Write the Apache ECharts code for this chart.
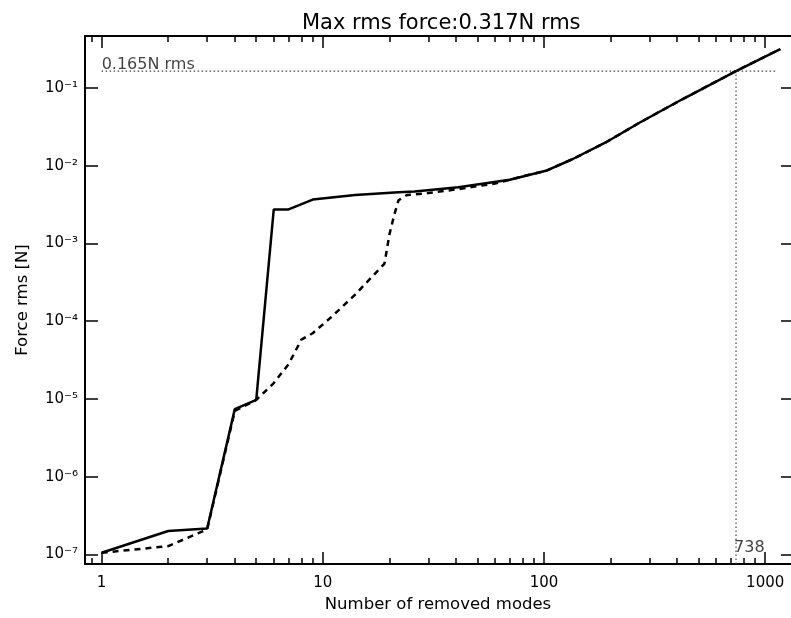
<!DOCTYPE html>
<html>
<head>
<meta charset="utf-8">
<script src="https://cdn.jsdelivr.net/npm/echarts@6/dist/echarts.min.js"></script>
<style>
html,body{margin:0;padding:0;background:#fff;}
#chart{width:791px;height:618px;}
</style>
</head>
<body>
<div id="chart"></div>
<script>
// ---- data ----
const titleText = 'Max rms force:0.317N rms';
const xName = 'Number of removed modes';
const yName = 'Force rms [N]';

const modesSolid = [1, 2, 3, 4, 5, 6, 7, 9, 14, 22, 26, 41, 70, 102, 135, 190, 270, 420, 738, 1170];
const forceSolid = [1.05e-7, 2.0e-7, 2.15e-7, 7.4e-6, 9.7e-6, 2.74e-3, 2.74e-3, 3.67e-3, 4.2e-3, 4.55e-3, 4.65e-3, 5.29e-3, 6.6e-3, 8.6e-3, 1.22e-2, 1.99e-2, 3.57e-2, 7.1e-2, 0.165, 0.317];

const modesDashed = [1, 2, 3, 4, 5, 6, 7, 8, 9, 11, 14, 19, 20, 21, 22, 24, 30, 40, 60, 80, 102, 135, 190, 270, 420, 738, 1170];
const forceDashed = [1.05e-7, 1.28e-7, 2.1e-7, 7.0e-6, 9.7e-6, 1.6e-5, 2.8e-5, 5.8e-5, 7.0e-5, 1.15e-4, 2.2e-4, 5.5e-4, 1.3e-3, 2.3e-3, 3.6e-3, 4.2e-3, 4.45e-3, 4.95e-3, 5.9e-3, 7.3e-3, 8.6e-3, 1.22e-2, 1.99e-2, 3.57e-2, 7.1e-2, 0.165, 0.317];

const refForce = 0.165;
const refForceLabel = '0.165N rms';
const refModes = 738;
const refModesLabel = '738';
const refLineStart = 1;
const refLineEnd = 1130;

const xMajorTicks = [1, 10, 100, 1000];
const xMinorTicks = [0.9, 2, 3, 4, 5, 6, 7, 8, 9, 20, 30, 40, 50, 60, 70, 80, 90, 200, 300, 400, 500, 600, 700, 800, 900];
const yMajorTicks = [1e-7, 1e-6, 1e-5, 1e-4, 1e-3, 1e-2, 1e-1];

const xMin = 0.841, xMax = 1308;
const yMin = 7.51e-8, yMax = 0.466;

// ---- helpers ----
const supMap = {'-': '\u207B', '0': '\u2070', '1': '\u00B9', '2': '\u00B2', '3': '\u00B3', '4': '\u2074', '5': '\u2075', '6': '\u2076', '7': '\u2077', '8': '\u2078', '9': '\u2079'};
function powLabel(v) {
  const e = String(Math.round(Math.log10(v)));
  return '10' + e.split('').map(c => supMap[c]).join('');
}
const zip = (a, b) => a.map((v, i) => [v, b[i]]);
const FONT = 'DejaVu Sans';

function xAxisDef(pos, ticks, len, showLine, showLabel) {
  return {
    type: 'log', logBase: 10, position: pos, min: xMin, max: xMax,
    axisLine: {show: showLine, onZero: false, lineStyle: {color: '#000', width: 2}},
    axisTick: {show: true, inside: true, length: len, customValues: ticks, lineStyle: {color: '#000', width: 1.5}},
    axisLabel: showLabel ? {show: true, customValues: ticks, color: '#000', fontSize: 15, fontFamily: FONT, margin: 12, formatter: v => String(Math.round(v))} : {show: false},
    splitLine: {show: false}, minorTick: {show: false}, minorSplitLine: {show: false}
  };
}

const chart = echarts.init(document.getElementById('chart'), null, {renderer: 'canvas'});
const xAxes = [
  xAxisDef('bottom', xMajorTicks, 12, true, true),
  xAxisDef('bottom', xMinorTicks, 6, false, false),
  xAxisDef('top', xMajorTicks, 12, true, false),
  xAxisDef('top', xMinorTicks, 6, false, false)
];
xAxes[0].name = xName;
xAxes[0].nameLocation = 'middle';
xAxes[0].nameGap = 27;
xAxes[0].nameTextStyle = {color: '#000', fontSize: 16.5, fontFamily: FONT};

const option = {
  animation: false,
  backgroundColor: '#fff',
  title: {
    text: titleText, left: 297, top: 8,
    textStyle: {color: '#000', fontSize: 21, fontWeight: 'normal', fontFamily: FONT}
  },
  grid: {left: 85, top: 36, width: 707, height: 532, containLabel: false},
  xAxis: xAxes,
  yAxis: [
    {
      type: 'log', logBase: 10, position: 'left', min: yMin, max: yMax,
      name: yName, nameLocation: 'middle', nameGap: 54,
      nameTextStyle: {color: '#000', fontSize: 16.5, fontFamily: FONT},
      axisLine: {show: true, onZero: false, lineStyle: {color: '#000', width: 2}},
      axisTick: {show: true, inside: true, length: 13, customValues: yMajorTicks, lineStyle: {color: '#000', width: 1.5}},
      axisLabel: {show: true, customValues: yMajorTicks, color: '#000', fontSize: 15, fontFamily: FONT, margin: 7, formatter: powLabel},
      splitLine: {show: false}
    },
    {
      type: 'log', logBase: 10, position: 'right', min: yMin, max: yMax,
      axisLine: {show: false},
      axisTick: {show: true, inside: true, length: 10, customValues: yMajorTicks, lineStyle: {color: '#000', width: 1.5}},
      axisLabel: {show: false},
      splitLine: {show: false}
    }
  ],
  series: [
    {
      type: 'line', name: 'solid', xAxisIndex: 0, yAxisIndex: 0,
      data: zip(modesSolid, forceSolid), symbol: 'none', z: 5,
      lineStyle: {color: '#000', width: 2.5, type: 'solid'}
    },
    {
      type: 'line', name: 'dashed', xAxisIndex: 0, yAxisIndex: 0,
      data: zip(modesDashed, forceDashed), symbol: 'none', z: 4,
      lineStyle: {color: '#000', width: 2.5, type: [6, 5]}
    },
    {
      type: 'line', name: 'refH', xAxisIndex: 0, yAxisIndex: 0,
      data: [[refLineStart, refForce], [refLineEnd, refForce]], symbol: 'none', z: 2,
      lineStyle: {color: '#444', width: 1.2, type: [1.5, 2.5]}
    },
    {
      type: 'line', name: 'refV', xAxisIndex: 0, yAxisIndex: 0,
      data: [[refModes, yMin], [refModes, refForce]], symbol: 'none', z: 2,
      lineStyle: {color: '#444', width: 1.2, type: [1.5, 2.5]}
    },
    {
      type: 'scatter', name: 'labels', xAxisIndex: 0, yAxisIndex: 0,
      symbolSize: 0, z: 6, silent: true,
      data: [
        {value: [refLineStart, refForce], label: {formatter: refForceLabel, offset: [0, 2], fontSize: 16}},
        {value: [refModes, 1e-7], label: {formatter: refModesLabel, offset: [-2, 1], fontSize: 16}}
      ],
      label: {show: true, position: [0, 0], align: 'left', verticalAlign: 'bottom', color: '#111', fontSize: 16, fontFamily: FONT}
    }
  ]
};
chart.setOption(option);
</script>
</body>
</html>
